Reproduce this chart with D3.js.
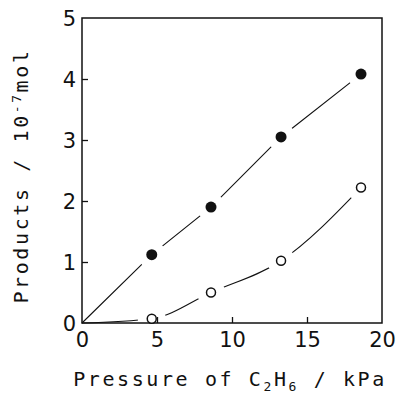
<!DOCTYPE html>
<html>
<head>
<meta charset="utf-8">
<script src="https://cdn.jsdelivr.net/npm/d3@7"></script>
<style>
  body { margin: 0; background: #fff; }
  text { font-family: "DejaVu Sans Mono", monospace; fill: #111; }
</style>
</head>
<body>
<div id="chart"></div>
<script>
// data
var pressure = [4.65, 8.6, 13.27, 18.6];
var filledVals = [1.12, 1.90, 3.05, 4.08];
var openVals = [0.07, 0.50, 1.02, 2.22];
var xTicks = [0, 5, 10, 15, 20];
var yTicks = [0, 1, 2, 3, 4, 5];

var width = 397, height = 401;
var margin = { left: 82, right: 15, top: 18, bottom: 78 };

var svg = d3.select('#chart').append('svg')
      .attr('width', width)
      .attr('height', height);

var x = d3.scaleLinear().domain([0, 20]).range([margin.left, width - margin.right]);
var y = d3.scaleLinear().domain([0, 5]).range([height - margin.bottom, margin.top]);

var filledPts = pressure.map(function (p, i) { return [p, filledVals[i]]; });
var openPts = pressure.map(function (p, i) { return [p, openVals[i]]; });

//fit lines through origin and the points
var straight = d3.line()
      .x(function (d) { return x(d[0]); })
      .y(function (d) { return y(d[1]); });
var curved = d3.line()
      .x(function (d) { return x(d[0]); })
      .y(function (d) { return y(d[1]); })
      .curve(d3.curveMonotoneX);

svg.append('path')
      .attr('class', 'fit')
      .attr('d', straight([[0, 0]].concat(filledPts)))
      .attr('fill', 'none').attr('stroke', '#111').attr('stroke-width', 1.1);
svg.append('path')
      .attr('class', 'fit')
      .attr('d', curved([[0, 0]].concat(openPts)))
      .attr('fill', 'none').attr('stroke', '#111').attr('stroke-width', 1.1);

//white halos to break the lines at the markers
svg.append('g').selectAll('circle')
      .data(filledPts.concat(openPts))
      .enter().append('circle')
      .attr('class', 'halo')
      .attr('cx', function (d) { return x(d[0]); })
      .attr('cy', function (d) { return y(d[1]); })
      .attr('r', 14)
      .style('fill', '#ffffff')
      .style('stroke', 'none');

//frame
svg.append('rect')
      .attr('x', x(0)).attr('y', y(5))
      .attr('width', x(20) - x(0)).attr('height', y(0) - y(5))
      .attr('fill', 'none').attr('stroke', '#111').attr('stroke-width', 1.5);

//axes with inward ticks
var xAxis = svg.append('g')
      .attr('transform', 'translate(0,' + y(0) + ')')
      .call(d3.axisBottom(x).tickValues(xTicks).tickFormat(d3.format('d'))
            .tickSizeInner(-6).tickSizeOuter(0).tickPadding(10));
var yAxis = svg.append('g')
      .attr('transform', 'translate(' + x(0) + ',0)')
      .call(d3.axisLeft(y).tickValues(yTicks).tickFormat(d3.format('d'))
            .tickSizeInner(-6).tickSizeOuter(0).tickPadding(10));

[xAxis, yAxis].forEach(function (a) {
      a.select('.domain').remove();
      a.selectAll('line').attr('stroke', '#111').attr('stroke-width', 1.3);
      a.selectAll('text')
            .style('font-family', '"DejaVu Sans", sans-serif')
            .style('font-size', '21px')
            .attr('fill', '#111');
});
xAxis.selectAll('line').filter(function (d) { return d === 0 || d === 20; }).remove();
yAxis.selectAll('line').filter(function (d) { return d === 0 || d === 5; }).remove();
xAxis.selectAll('text').attr('dy', '0.75em').attr('y', 8);
yAxis.selectAll('text').attr('x', -6).attr('dy', '0.36em');

//markers
svg.append('g').selectAll('circle')
      .data(filledPts)
      .enter().append('circle')
      .attr('cx', function (d) { return x(d[0]); })
      .attr('cy', function (d) { return y(d[1]); })
      .attr('r', 5.5)
      .attr('fill', '#111');
svg.append('g').selectAll('circle')
      .data(openPts)
      .enter().append('circle')
      .attr('cx', function (d) { return x(d[0]); })
      .attr('cy', function (d) { return y(d[1]); })
      .attr('r', 4.5)
      .attr('fill', '#fff')
      .attr('stroke', '#111').attr('stroke-width', 1.5);

//axis titles
var xt = svg.append('text')
      .attr('x', 230).attr('y', 386)
      .attr('text-anchor', 'middle')
      .style('font-size', '20px')
      .style('letter-spacing', '2.6px');
xt.append('tspan').text('Pressure of C');
xt.append('tspan').attr('dy', 5).style('font-size', '13px').text('2');
xt.append('tspan').attr('dy', -5).text('H');
xt.append('tspan').attr('dy', 5).style('font-size', '13px').text('6');
xt.append('tspan').attr('dy', -5).text(' / kPa');

var yt = svg.append('text')
      .attr('transform', 'translate(28,176) rotate(-90)')
      .attr('text-anchor', 'middle')
      .style('font-size', '20px')
      .style('letter-spacing', '2.6px');
yt.append('tspan').text('Products / 10');
yt.append('tspan').attr('dy', -7).style('font-size', '13px').text('-7');
yt.append('tspan').attr('dy', 7).text('mol');
</script>
</body>
</html>
